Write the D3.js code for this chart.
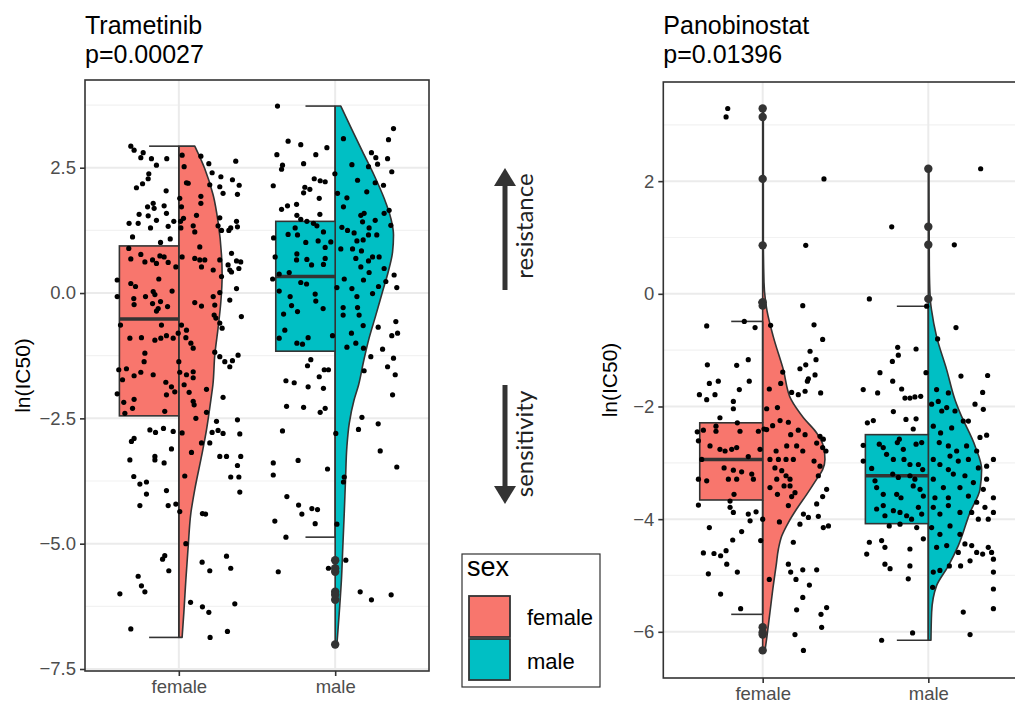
<!DOCTYPE html>
<html>
<head>
<meta charset="utf-8">
<script src="https://cdn.jsdelivr.net/npm/d3@7"></script>
<style>
  body { margin: 0; background: #fff; }
  text { font-family: "Liberation Sans", Arial, Helvetica, sans-serif; }
</style>
</head>
<body>
<div id="cont"></div>
<script>
var groups = ["female", "male"];
var colors = { female: "#F8766D", male: "#00BFC4" };

// box stats: [whisker low, Q1, median, Q3, whisker high]
var tramFemaleBox = [-6.87, -2.45, -0.52, 0.94, 2.93];
var tramMaleBox = [-4.87, -1.16, 0.33, 1.43, 3.73];
var panoFemaleBox = [-5.69, -3.66, -2.94, -2.29, -0.49];
var panoMaleBox = [-6.15, -4.08, -3.23, -2.50, -0.22];

// violin profile: [value, half width in category units]
var tramFemaleViolin = [[2.93,0.102],[2.48,0.166],[1.95,0.220],[1.42,0.251],[0.76,0.273],[0.36,0.277],[-0.17,0.269],[-0.70,0.251],[-1.24,0.230],[-1.83,0.218],[-2.13,0.205],[-2.73,0.177],[-3.26,0.145],[-3.92,0.102],[-4.39,0.077],[-5.05,0.060],[-5.72,0.045],[-6.38,0.032],[-6.87,0.021]];
var tramMaleViolin = [[3.73,0.036],[3.28,0.104],[2.82,0.175],[2.35,0.249],[1.89,0.313],[1.49,0.356],[1.16,0.373],[0.82,0.367],[0.42,0.339],[0.03,0.303],[-0.44,0.260],[-0.90,0.217],[-1.37,0.181],[-1.83,0.150],[-2.13,0.121],[-2.60,0.090],[-3.06,0.075],[-3.73,0.066],[-4.39,0.058],[-5.05,0.049],[-5.72,0.040],[-6.38,0.026],[-7.01,0.011]];
var panoFemaleViolin = [[3.29,0.004],[1.0,0.004],[0.2,0.008],[-0.1,0.016],[-0.3,0.026],[-0.76,0.064],[-1.35,0.125],[-1.88,0.172],[-2.2,0.246],[-2.47,0.326],[-2.7,0.366],[-2.94,0.376],[-3.12,0.362],[-3.29,0.326],[-3.56,0.266],[-3.82,0.205],[-4.06,0.155],[-4.3,0.115],[-4.53,0.095],[-4.83,0.081],[-5.18,0.064],[-5.65,0.044],[-6.12,0.024],[-6.33,0.014]];
var panoMaleViolin = [[2.22,0.004],[0.5,0.006],[-0.1,0.012],[-0.3,0.020],[-0.76,0.050],[-1.35,0.111],[-1.88,0.161],[-2.11,0.191],[-2.7,0.282],[-3.12,0.322],[-3.47,0.312],[-3.88,0.252],[-4.47,0.181],[-4.83,0.121],[-5.18,0.050],[-5.65,0.020],[-6.15,0.016]];

// jittered points: [jitter offset in category units, ln(IC50)]
var tramFemalePts = [[-0.307,2.93],[-0.286,2.85],[-0.228,2.80],[-0.243,2.70],[-0.175,2.68],[-0.077,2.68],[-0.143,2.55],[-0.192,2.38],[-0.196,2.28],[-0.232,2.18],[-0.271,2.10],[-0.081,2.04],[-0.200,1.72],[-0.164,1.79],[-0.158,1.69],[-0.094,1.74],[-0.254,1.57],[-0.196,1.54],[-0.143,1.45],[-0.079,1.59],[-0.032,1.43],[-0.318,1.39],[-0.260,1.39],[-0.181,1.30],[-0.068,1.33],[-0.296,1.12],[-0.117,1.01],[-0.055,1.08],[-0.320,0.89],[-0.243,0.77],[-0.307,0.68],[-0.217,0.62],[-0.168,0.66],[-0.143,0.59],[-0.121,0.74],[-0.094,0.72],[-0.068,0.61],[-0.019,0.52],[-0.394,0.26],[-0.307,0.19],[-0.277,0.13],[-0.128,0.28],[-0.164,0.03],[-0.153,-0.03],[-0.043,0.04],[-0.394,-0.07],[-0.288,-0.11],[-0.286,-0.23],[-0.213,-0.07],[-0.168,-0.21],[-0.117,-0.17],[-0.132,-0.31],[-0.143,-0.36],[-0.072,-0.27],[-0.373,-0.64],[-0.111,-0.64],[-0.313,-0.90],[-0.239,-0.89],[-0.153,-0.94],[-0.115,-0.90],[-0.079,-0.85],[-0.036,-0.90],[-0.004,-0.80],[-0.217,-1.20],[-0.222,-1.37],[-0.384,-1.53],[-0.335,-1.51],[-0.243,-1.58],[-0.164,-1.63],[-0.360,-1.73],[-0.286,-1.65],[-0.083,-1.78],
  [0.021,2.75],[0.141,2.73],[0.192,2.58],[0.213,2.40],[0.269,2.32],[0.343,2.26],[0.364,2.63],[0.386,2.15],[0.034,2.52],[0.049,2.20],[0.060,2.19],[0.198,2.16],[0.283,1.99],[0.262,2.12],[0.375,1.97],[0.141,1.93],[0.141,1.79],[0.006,1.89],[0.017,1.72],[0.030,1.49],[0.011,1.43],[0.013,1.30],[0.113,1.55],[0.092,1.34],[0.102,1.22],[0.262,1.50],[0.273,1.25],[0.251,1.34],[0.320,1.25],[0.332,1.30],[0.369,1.43],[0.375,1.32],[0.134,0.92],[0.021,0.72],[0.102,0.69],[0.134,0.66],[0.166,0.66],[0.145,0.52],[0.262,0.66],[0.220,0.46],[0.337,0.79],[0.369,0.64],[0.396,0.62],[0.315,0.56],[0.326,0.46],[0.337,0.42],[0.384,0.49],[0.273,0.33],[0.369,0.09],[0.262,0.01],[0.326,-0.14],[0.102,-0.19],[0.145,-0.26],[0.220,-0.07],[0.230,-0.24],[0.226,-0.44],[0.237,-0.50],[0.262,-0.60],[0.277,-0.70],[0.400,-0.47],[0.017,-0.64],[0.049,-0.74],[0.045,-0.89],[0.092,-1.10],[0.077,-1.00],[0.230,-1.18],[0.262,-1.27],[0.294,-1.37],[0.326,-1.47],[0.343,-1.35],[0.379,-1.24],[0.000,-1.37],[0.006,-1.58],[0.049,-1.63],[0.092,-1.57],[0.034,-1.83],[0.092,-1.69],
  [-0.047,-1.87],[-0.026,-1.97],[-0.394,-2.01],[-0.286,-2.12],[-0.352,-2.18],[-0.296,-2.30],[-0.079,-2.03],[-0.090,-2.36],[-0.345,-2.40],[-0.185,-2.73],[-0.149,-2.78],[-0.098,-2.70],[-0.036,-2.76],[-0.286,-2.90],[-0.303,-2.96],[-0.313,-3.33],[-0.153,-3.26],[-0.153,-3.33],[-0.094,-3.39],[-0.047,-3.11],[-0.288,-3.66],[-0.249,-3.81],[-0.207,-3.77],[-0.207,-4.01],[-0.079,-3.94],[-0.249,-4.24],[-0.068,-4.24],[-0.019,-4.21],[0.006,-4.36],[-0.090,-5.24],[-0.104,-5.31],[-0.064,-5.54],[-0.260,-5.65],[-0.239,-5.84],[-0.217,-5.96],[-0.377,-6.00],[-0.307,-6.70],
  [0.066,-1.98],[0.092,-2.16],[0.098,-2.23],[0.177,-1.92],[0.283,-2.08],[0.109,-2.50],[0.177,-2.38],[0.241,-2.56],[0.213,-2.78],[0.251,-2.74],[0.283,-2.80],[0.375,-2.53],[0.390,-2.81],[0.021,-2.79],[0.145,-2.99],[0.198,-2.99],[0.081,-3.18],[0.262,-3.26],[0.305,-3.26],[0.396,-3.26],[0.375,-3.44],[0.332,-3.67],[0.384,-3.67],[0.390,-3.97],[0.038,-3.65],[0.151,-4.40],[0.171,-4.41],[0.045,-5.00],[0.149,-5.37],[0.198,-5.54],[0.305,-5.25],[0.332,-5.49],[0.075,-6.17],[0.151,-6.26],[0.192,-6.37],[0.358,-6.20],[0.200,-6.87],[0.311,-6.75]];

var tramMalePts = [[-0.369,3.73],[-0.301,3.03],[-0.220,2.96],[-0.373,2.76],[-0.124,2.76],[-0.053,2.90],[-0.337,2.55],[-0.343,2.47],[-0.202,2.58],[-0.396,2.14],[-0.134,2.28],[-0.096,2.24],[-0.064,2.22],[-0.194,2.11],[-0.162,2.07],[-0.202,2.00],[-0.102,1.89],[-0.343,1.67],[-0.305,1.74],[-0.247,1.77],[-0.245,1.55],[-0.098,1.57],[-0.220,1.47],[-0.181,1.43],[-0.139,1.39],[-0.256,1.30],[-0.117,1.34],[-0.075,1.22],[-0.394,1.10],[-0.301,1.17],[-0.241,1.16],[-0.188,1.01],[-0.109,1.04],[-0.064,0.91],[-0.028,1.02],[-0.384,0.72],[-0.245,0.78],[-0.247,0.66],[-0.181,0.67],[-0.151,0.56],[-0.075,0.57],[-0.064,0.69],[-0.358,0.38],[-0.400,0.28],[-0.294,0.41],[-0.220,0.21],[-0.183,0.18],[-0.358,0.04],[-0.288,-0.07],[-0.128,-0.02],[-0.124,-0.16],[-0.279,-0.25],[-0.241,-0.37],[-0.077,-0.31],[-0.330,-0.42],[-0.322,-0.74],[-0.358,-0.90],[-0.173,-0.89],[-0.245,-1.00],[-0.209,-1.02],[-0.017,-0.85],[-0.156,-1.33],[-0.177,-1.45],[-0.070,-1.53],[-0.043,-1.53],[-0.102,-1.67],[-0.315,-1.75],[-0.262,-1.79],
  [0.053,3.08],[0.107,2.56],[-0.002,2.38],[0.015,1.99],[0.053,1.72],[0.075,1.90],[0.143,2.25],[0.202,2.02],[0.232,2.80],[0.260,2.70],[0.271,2.57],[0.335,2.68],[0.341,3.06],[0.373,3.28],[0.362,2.42],[0.213,2.52],[0.256,2.20],[0.309,2.15],[0.345,1.65],[0.356,1.35],[0.313,1.59],[0.256,1.45],[0.217,1.30],[0.185,1.59],[0.164,1.55],[0.175,1.42],[0.043,1.31],[0.079,1.25],[0.121,1.20],[0.179,1.06],[0.139,1.04],[0.213,1.16],[0.266,1.16],[0.036,0.88],[0.111,0.88],[0.168,0.84],[0.132,0.69],[0.239,0.72],[0.281,0.72],[0.213,0.64],[0.164,0.52],[0.313,0.49],[0.217,0.41],[0.181,0.26],[0.058,0.28],[0.011,0.11],[0.107,0.09],[0.139,-0.07],[0.239,-0.01],[0.277,0.13],[0.324,0.23],[0.377,0.36],[0.394,0.11],[0.051,-0.29],[0.051,-0.44],[0.143,-0.29],[0.153,-0.44],[0.179,-0.65],[0.275,-0.68],[0.104,-0.80],[0.132,-1.00],[0.075,-1.08],[0.181,-1.10],[0.228,-1.27],[0.303,-1.12],[0.362,-0.85],[0.399,-0.80],[0.388,-0.57],[0.373,-1.30],[0.335,-1.47],[0.384,-1.63],[0.185,-1.55],
  [-0.173,-1.87],[-0.075,-1.90],[-0.311,-2.26],[-0.202,-2.28],[-0.096,-2.38],[-0.064,-2.30],[-0.337,-2.75],[-0.396,-3.39],[-0.396,-3.63],[-0.237,-3.34],[-0.049,-3.51],[-0.309,-4.06],[-0.234,-4.23],[-0.213,-4.41],[-0.149,-4.30],[-0.113,-4.32],[-0.128,-4.60],[-0.386,-4.55],[-0.315,-4.87],[-0.364,-5.56],[-0.043,-5.49],[0.011,-4.61],[0.004,-2.80],[0.058,-3.67],[0.053,-3.77],[0.171,-2.48],[0.149,-2.72],[0.275,-2.61],[0.288,-3.15],[0.394,-3.47],[0.367,-2.03],[0.068,-5.33],[0.160,-5.96],[0.232,-6.12],[0.358,-6.02],[0.004,-7.01]];

var panoFemalePts = [[-0.211,3.29],[-0.221,3.14],[0.370,2.04],[0.260,0.86],[0.242,-0.21],[-0.010,-0.15],[0.048,-0.56],[-0.111,-0.49],[-0.046,-0.60],[0.310,-0.55],[0.362,-0.81],[-0.338,-0.57],[0.286,-1.02],[-0.334,-1.26],[-0.157,-1.27],[-0.087,-1.17],[0.121,-1.39],[0.225,-1.33],[0.260,-1.26],[0.316,-1.44],[0.322,-1.17],[0.276,-1.51],
  [-0.322,-1.59],[-0.268,-1.55],[-0.141,-1.70],[-0.081,-1.55],[-0.382,-1.79],[-0.338,-1.88],[-0.288,-1.79],[-0.177,-1.91],[-0.177,-2.04],[0.040,-1.69],[0.109,-1.59],[0.175,-1.75],[0.215,-1.79],[0.256,-1.73],[0.270,-1.55],[0.350,-1.76],[0.089,-2.02],[0.024,-2.04],[-0.258,-2.20],[-0.282,-2.35],[-0.358,-2.42],[-0.395,-2.45],[-0.388,-2.61],[-0.282,-2.44],[-0.153,-2.29],[-0.137,-2.44],[-0.026,-2.44],[0.008,-2.40],[-0.318,-2.70],[-0.258,-2.76],[-0.227,-2.79],[-0.187,-2.76],[-0.157,-2.73],[-0.368,-2.94],[-0.087,-2.89],[-0.016,-2.76],[-0.233,-3.09],[-0.177,-3.13],[-0.127,-3.16],[-0.066,-3.20],[-0.388,-3.29],[-0.338,-3.32],[-0.207,-3.29],[-0.157,-3.29],[-0.056,-3.29],[-0.173,-3.56],[-0.197,-3.68],[-0.388,-3.75],[-0.197,-3.79],[-0.177,-3.88],[-0.087,-3.91],[-0.076,-4.03],[-0.040,-3.87],[0.000,-4.00],[-0.322,-4.15],[-0.127,-4.22],[-0.181,-4.37],[-0.012,-4.38],[-0.358,-4.60],[-0.294,-4.61],[-0.254,-4.65],[-0.221,-4.56],[-0.217,-4.80],[-0.328,-4.97],[-0.153,-4.94],[-0.254,-5.33],[-0.133,-5.59],
  [0.024,-2.41],[0.060,-2.34],[0.105,-2.25],[0.155,-2.28],[0.215,-2.42],[0.256,-2.50],[0.326,-2.65],[0.346,-2.53],[0.366,-2.58],[0.362,-2.73],[0.382,-2.79],[0.169,-2.50],[0.145,-2.70],[0.205,-2.70],[0.242,-2.79],[0.081,-2.79],[0.044,-2.94],[0.095,-2.94],[0.141,-2.94],[0.185,-2.94],[0.310,-2.97],[0.346,-3.06],[0.074,-3.09],[0.115,-3.14],[0.141,-3.23],[0.165,-3.29],[0.085,-3.29],[0.165,-3.41],[0.195,-3.53],[0.175,-3.60],[0.155,-3.76],[0.129,-3.41],[0.044,-3.44],[0.089,-3.56],[0.336,-3.23],[0.386,-3.47],[0.362,-3.60],[0.326,-3.73],[0.276,-3.97],[0.246,-3.91],[0.225,-4.09],[0.336,-3.95],[0.397,-4.12],[0.366,-4.15],[0.101,-4.05],[0.185,-4.41],[0.155,-4.80],[0.169,-4.94],[0.201,-5.07],[0.242,-4.90],[0.326,-4.90],[0.282,-5.17],[0.242,-5.39],[0.205,-5.61],[0.386,-5.57],[0.352,-5.69],[0.356,-5.92],[0.195,-6.05],[0.246,-6.33],[0.040,-5.07],[0.002,-6.01]];

var panoMalePts = [[-0.356,-0.09],[-0.221,1.19],[0.316,2.22],[0.157,0.87],[0.167,-0.60],[0.056,-0.80],[-0.074,-0.98],[-0.185,-0.95],[-0.181,-1.09],[-0.217,-1.20],[-0.292,-1.40],[0.197,-1.46],[0.358,-1.45],[-0.014,-1.40],[-0.010,-0.22],
  [-0.393,-1.70],[-0.306,-1.76],[-0.215,-1.55],[-0.161,-1.69],[-0.141,-1.85],[-0.111,-1.85],[-0.081,-1.83],[-0.046,-1.82],[-0.211,-2.09],[-0.332,-2.25],[-0.368,-2.29],[-0.135,-2.23],[-0.074,-2.22],[-0.091,-2.40],[-0.175,-2.58],[-0.296,-2.67],[-0.393,-2.69],[-0.393,-2.97],[-0.342,-3.10],[-0.272,-2.73],[-0.187,-2.64],[-0.151,-2.76],[-0.074,-2.67],[-0.040,-2.64],[-0.322,-3.32],[-0.312,-3.44],[-0.252,-2.85],[-0.211,-2.94],[-0.147,-2.94],[-0.111,-3.03],[-0.060,-3.03],[-0.034,-3.12],[-0.215,-3.20],[-0.181,-3.26],[-0.111,-3.23],[-0.081,-3.29],[-0.272,-3.56],[-0.191,-3.56],[-0.165,-3.62],[-0.091,-3.41],[-0.050,-3.47],[-0.030,-3.59],[-0.272,-3.76],[-0.312,-3.82],[-0.262,-3.94],[-0.211,-3.85],[-0.171,-3.88],[-0.131,-3.94],[-0.101,-4.00],[-0.060,-3.79],[-0.040,-3.91],[-0.171,-4.09],[-0.236,-4.12],[-0.282,-4.38],[-0.356,-4.41],[-0.372,-4.62],[-0.262,-4.50],[-0.070,-4.15],[-0.030,-4.35],[-0.111,-4.53],[-0.262,-4.80],[-0.231,-4.88],[-0.111,-4.83],[-0.121,-5.06],[-0.282,-6.15],[-0.095,-6.02],
  [0.050,-1.70],[0.121,-1.76],[0.328,-1.75],[0.020,-1.96],[0.060,-1.91],[0.081,-2.08],[0.111,-2.02],[0.161,-2.08],[0.282,-1.96],[0.332,-2.05],[0.242,-2.26],[0.030,-2.35],[0.074,-2.47],[0.141,-2.38],[0.211,-2.26],[0.312,-2.55],[0.352,-2.51],[0.066,-2.64],[0.121,-2.70],[0.131,-2.88],[0.171,-2.79],[0.231,-2.70],[0.292,-2.79],[0.352,-3.06],[0.393,-2.94],[0.030,-2.94],[0.070,-3.03],[0.121,-3.12],[0.181,-2.97],[0.242,-2.94],[0.302,-3.09],[0.352,-3.29],[0.030,-3.29],[0.091,-3.44],[0.151,-3.20],[0.221,-3.23],[0.272,-3.35],[0.332,-3.47],[0.393,-3.62],[0.040,-3.62],[0.121,-3.62],[0.191,-3.44],[0.242,-3.59],[0.292,-3.70],[0.342,-3.79],[0.393,-3.88],[0.362,-4.00],[0.030,-3.79],[0.070,-3.91],[0.121,-3.76],[0.191,-3.88],[0.262,-3.88],[0.302,-4.00],[0.020,-4.15],[0.070,-4.27],[0.131,-4.12],[0.191,-4.27],[0.221,-4.44],[0.262,-4.47],[0.292,-4.59],[0.328,-4.62],[0.382,-4.59],[0.050,-4.50],[0.111,-4.47],[0.181,-4.59],[0.252,-4.74],[0.362,-4.50],[0.393,-4.71],[0.030,-4.94],[0.070,-4.91],[0.127,-4.83],[0.195,-4.83],[0.393,-4.94],[0.026,-5.21],[0.211,-5.65],[0.393,-5.24],[0.393,-5.59],[0.252,-6.05]];

var tramTicks = [2.5, 0, -2.5, -5, -7.5];
var tramMinor = [3.75, 1.25, -1.25, -3.75, -6.25];
var panoTicks = [2, 0, -2, -4, -6];
var panoMinor = [3, 1, -1, -3, -5];

var svg = d3.select("#cont").append("svg")
  .attr("width", 1015)
  .attr("height", 704);

function drawPanel(p) {
  var x = d3.scalePoint().domain(groups).range([p.left, p.right]).padding(0.6);
  var y = d3.scaleLinear().domain(p.domain).range([p.bottom, p.top]);
  var step = x.step();
  var g = svg.append("g");

  g.append("rect")
    .attr("x", p.left).attr("y", p.top)
    .attr("width", p.right - p.left).attr("height", p.bottom - p.top)
    .attr("fill", "#fff");

  // grid
  g.selectAll(".minor").data(p.minor).enter().append("line")
    .attr("x1", p.left).attr("x2", p.right)
    .attr("y1", function(d) { return y(d); }).attr("y2", function(d) { return y(d); })
    .attr("stroke", "#F2F2F2").attr("stroke-width", 1.2);
  g.selectAll(".major").data(p.ticks).enter().append("line")
    .attr("x1", p.left).attr("x2", p.right)
    .attr("y1", function(d) { return y(d); }).attr("y2", function(d) { return y(d); })
    .attr("stroke", "#EBEBEB").attr("stroke-width", 2);
  g.selectAll(".vgrid").data(groups).enter().append("line")
    .attr("x1", function(d) { return x(d); }).attr("x2", function(d) { return x(d); })
    .attr("y1", p.top).attr("y2", p.bottom)
    .attr("stroke", "#EBEBEB").attr("stroke-width", 2);

  groups.forEach(function(grp) {
    var cx = x(grp);
    var box = p.box[grp];
    var violin = p.violin[grp];
    var pts = p.pts[grp];

    var area = d3.area()
      .y(function(d) { return y(d[0]); })
      .x0(cx)
      .x1(function(d) { return cx + d[1] * step; })
      .curve(d3.curveMonotoneY);

    g.append("path").datum(violin)
      .attr("d", area)
      .attr("fill", colors[grp])
      .attr("stroke", "#333333")
      .attr("stroke-width", 1.6)
      .attr("stroke-linejoin", "round");

    var bw = 0.38 * step;
    g.append("rect")
      .attr("x", cx - bw).attr("width", bw)
      .attr("y", y(box[3])).attr("height", y(box[1]) - y(box[3]))
      .attr("fill", colors[grp])
      .attr("stroke", "#333333").attr("stroke-width", 1.6);
    g.append("line")
      .attr("x1", cx - bw).attr("x2", cx)
      .attr("y1", y(box[2])).attr("y2", y(box[2]))
      .attr("stroke", "#333333").attr("stroke-width", 3.5);
    // whiskers
    [[box[3], box[4]], [box[1], box[0]]].forEach(function(w) {
      g.append("line")
        .attr("x1", cx).attr("x2", cx)
        .attr("y1", y(w[0])).attr("y2", y(w[1]))
        .attr("stroke", "#333333").attr("stroke-width", 1.6);
      g.append("line")
        .attr("x1", cx - bw / 2).attr("x2", cx)
        .attr("y1", y(w[1])).attr("y2", y(w[1]))
        .attr("stroke", "#333333").attr("stroke-width", 1.6);
    });

    g.selectAll(".pt-" + grp).data(pts).enter().append("circle")
      .attr("cx", function(d) { return cx + d[0] * step; })
      .attr("cy", function(d) { return y(d[1]); })
      .attr("r", 2.6)
      .attr("fill", "#000");

    var outliers = pts.filter(function(d) { return d[1] > box[4] + 0.001 || d[1] < box[0] - 0.001; });
    g.selectAll(".out-" + grp).data(outliers).enter().append("circle")
      .attr("cx", cx)
      .attr("cy", function(d) { return y(d[1]); })
      .attr("r", 4.2)
      .attr("fill", "#333333");
  });

  g.append("rect")
    .attr("x", p.left).attr("y", p.top)
    .attr("width", p.right - p.left).attr("height", p.bottom - p.top)
    .attr("fill", "none").attr("stroke", "#333333").attr("stroke-width", 1.6);

  var yAxis = g.append("g")
    .attr("transform", "translate(" + p.left + ",0)")
    .call(d3.axisLeft(y).tickValues(p.ticks).tickFormat(p.fmt).tickSize(5).tickPadding(4));
  var xAxis = g.append("g")
    .attr("transform", "translate(0," + p.bottom + ")")
    .call(d3.axisBottom(x).tickSize(5).tickPadding(4));
  [yAxis, xAxis].forEach(function(a) {
    a.select(".domain").remove();
    a.selectAll(".tick line").attr("stroke", "#333333").attr("stroke-width", 1.6);
    a.selectAll(".tick text").attr("fill", "#4D4D4D").style("font-size", "18.5px")
      .style("font-family", "'Liberation Sans', Arial, sans-serif");
  });

  g.append("text")
    .attr("transform", "translate(" + p.ylabX + "," + ((p.top + p.bottom) / 2) + ") rotate(-90)")
    .attr("text-anchor", "middle")
    .style("font-size", "21px")
    .text("ln(IC50)");

  g.append("text").attr("x", p.left).attr("y", 34).style("font-size", "25px").text(p.title);
  g.append("text").attr("x", p.left).attr("y", 63).style("font-size", "25px").text(p.ptext);
}

drawPanel({
  left: 85, right: 429, top: 80, bottom: 671,
  domain: [-7.54, 4.25],
  ticks: tramTicks, minor: tramMinor, fmt: d3.format(".1f"),
  box: { female: tramFemaleBox, male: tramMaleBox },
  violin: { female: tramFemaleViolin, male: tramMaleViolin },
  pts: { female: tramFemalePts, male: tramMalePts },
  ylabX: 30, title: "Trametinib", ptext: "p=0.00027"
});

drawPanel({
  left: 663.3, right: 1027.7, top: 82, bottom: 678,
  domain: [-6.82, 3.76],
  ticks: panoTicks, minor: panoMinor, fmt: d3.format("d"),
  box: { female: panoFemaleBox, male: panoMaleBox },
  violin: { female: panoFemaleViolin, male: panoMaleViolin },
  pts: { female: panoFemalePts, male: panoMalePts },
  ylabX: 617, title: "Panobinostat", ptext: "p=0.01396"
});

// resistance / sensitivity arrows
var ann = svg.append("g").attr("fill", "#333333").attr("stroke", "#333333");
ann.append("line").attr("x1", 505).attr("x2", 505).attr("y1", 290).attr("y2", 180).attr("stroke-width", 5);
ann.append("path").attr("d", "M494,186 L505,168 L516,186 Z").attr("stroke", "none");
ann.append("line").attr("x1", 505).attr("x2", 505).attr("y1", 385).attr("y2", 492).attr("stroke-width", 5);
ann.append("path").attr("d", "M494,486 L505,504 L516,486 Z").attr("stroke", "none");

svg.append("text")
  .attr("transform", "translate(533,226) rotate(-90)")
  .attr("text-anchor", "middle")
  .style("font-family", "Lato, 'Open Sans', sans-serif")
  .style("font-size", "24px")
  .attr("fill", "#222")
  .text("resistance");
svg.append("text")
  .attr("transform", "translate(533,444) rotate(-90)")
  .attr("text-anchor", "middle")
  .style("font-family", "Lato, 'Open Sans', sans-serif")
  .style("font-size", "24px")
  .attr("fill", "#222")
  .text("sensitivity");

// legend
var leg = svg.append("g");
leg.append("rect").attr("x", 462).attr("y", 554).attr("width", 138).attr("height", 133)
  .attr("fill", "#fff").attr("stroke", "#333333").attr("stroke-width", 1.2);
leg.append("text").attr("x", 467).attr("y", 576).style("font-size", "27px").text("sex");
groups.forEach(function(grp, i) {
  leg.append("rect")
    .attr("x", 469).attr("y", 596 + i * 43)
    .attr("width", 41).attr("height", 41)
    .attr("fill", colors[grp])
    .attr("stroke", "#333333").attr("stroke-width", 1.8);
  leg.append("text")
    .attr("x", 527).attr("y", 625 + i * 44)
    .style("font-size", "22px")
    .text(grp);
});
</script>
</body>
</html>
